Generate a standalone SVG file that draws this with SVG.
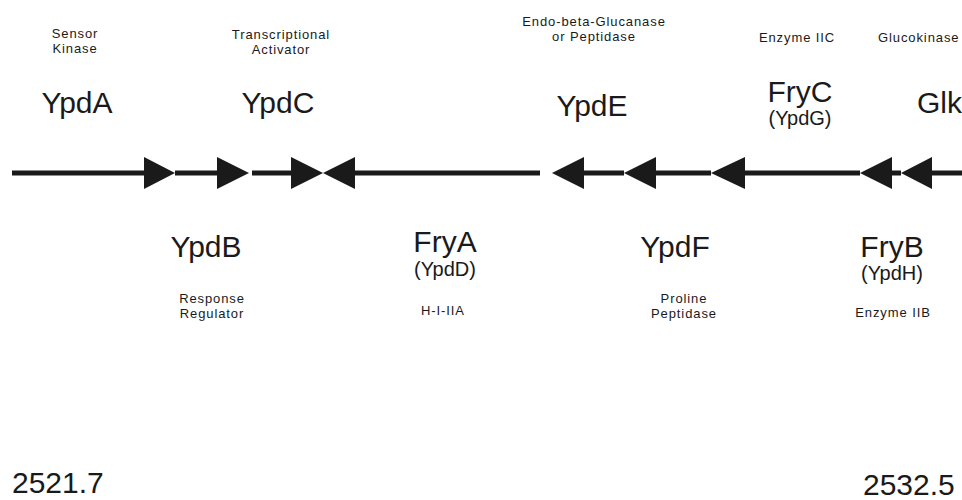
<svg xmlns="http://www.w3.org/2000/svg" width="962" height="500" viewBox="0 0 962 500">
<style>
text{font-family:"Liberation Sans",Arial,sans-serif;fill:#1a1a1a;text-anchor:middle}
.big{font-size:30px}
.mid{font-size:20px}
.sm{font-size:13px;letter-spacing:0.9px}
.num{font-size:30px;text-anchor:start}
.ln{stroke:#1a1a1a;stroke-width:5;fill:none}
.hd{fill:#1a1a1a;stroke:none}
</style>
<rect width="962" height="500" fill="#fff"/>
<g id="connectors">
<line class="ln" x1="12" y1="173" x2="146" y2="173"/>
<line class="ln" x1="175" y1="173" x2="219" y2="173"/>
<line class="ln" x1="252" y1="173" x2="293" y2="173"/>
<line class="ln" x1="353" y1="173" x2="540" y2="173"/>
<line class="ln" x1="582" y1="173" x2="624" y2="173"/>
<line class="ln" x1="654" y1="173" x2="711" y2="173"/>
<line class="ln" x1="743" y1="173" x2="860" y2="173"/>
<line class="ln" x1="890" y1="173" x2="901" y2="173"/>
<line class="ln" x1="930" y1="173" x2="962" y2="173"/>
</g>
<g id="ypdA">
<polygon class="hd" points="144,157 175,173 144,189"/>
<text class="sm" x="75" y="38">Sensor</text>
<text class="sm" x="75" y="53">Kinase</text>
<text class="big" x="77" y="113">YpdA</text>
</g>
<g id="ypdB">
<polygon class="hd" points="217,157 249,173 217,189"/>
<text class="big" x="206" y="257">YpdB</text>
<text class="sm" x="212" y="303">Response</text>
<text class="sm" x="212" y="318">Regulator</text>
</g>
<g id="ypdC">
<polygon class="hd" points="291,157 323,173 291,189"/>
<text class="sm" x="281" y="39">Transcriptional</text>
<text class="sm" x="281" y="54">Activator</text>
<text class="big" x="278" y="113">YpdC</text>
</g>
<g id="fryA">
<polygon class="hd" points="355,157 323,173 355,189"/>
<text class="big" x="445" y="252">FryA</text>
<text class="mid" x="445" y="276">(YpdD)</text>
<text class="sm" x="443" y="315">H-I-IIA</text>
</g>
<g id="ypdE">
<polygon class="hd" points="584,157 552,173 584,189"/>
<text class="sm" x="594" y="26">Endo-beta-Glucanase</text>
<text class="sm" x="594" y="41">or Peptidase</text>
<text class="big" x="592" y="116">YpdE</text>
</g>
<g id="ypdF">
<polygon class="hd" points="656,157 624,173 656,189"/>
<text class="big" x="675" y="257">YpdF</text>
<text class="sm" x="684" y="303">Proline</text>
<text class="sm" x="684" y="318">Peptidase</text>
</g>
<g id="fryC">
<polygon class="hd" points="745,157 711,173 745,189"/>
<text class="sm" x="797" y="42">Enzyme IIC</text>
<text class="big" x="800" y="102">FryC</text>
<text class="mid" x="800" y="125">(YpdG)</text>
</g>
<g id="fryB">
<polygon class="hd" points="892,157 860,173 892,189"/>
<text class="big" x="892" y="257">FryB</text>
<text class="mid" x="892" y="280">(YpdH)</text>
<text class="sm" x="893" y="317">Enzyme IIB</text>
</g>
<g id="glk">
<polygon class="hd" points="932,157 901,173 932,189"/>
<text class="sm" x="878" y="42" style="text-anchor:start">Glucokinase</text>
<text class="big" x="917" y="113" style="text-anchor:start">Glk</text>
</g>
<g id="scale">
<text class="num" x="12" y="493">2521.7</text>
<text class="num" x="863" y="495">2532.5</text>
</g>
</svg>
